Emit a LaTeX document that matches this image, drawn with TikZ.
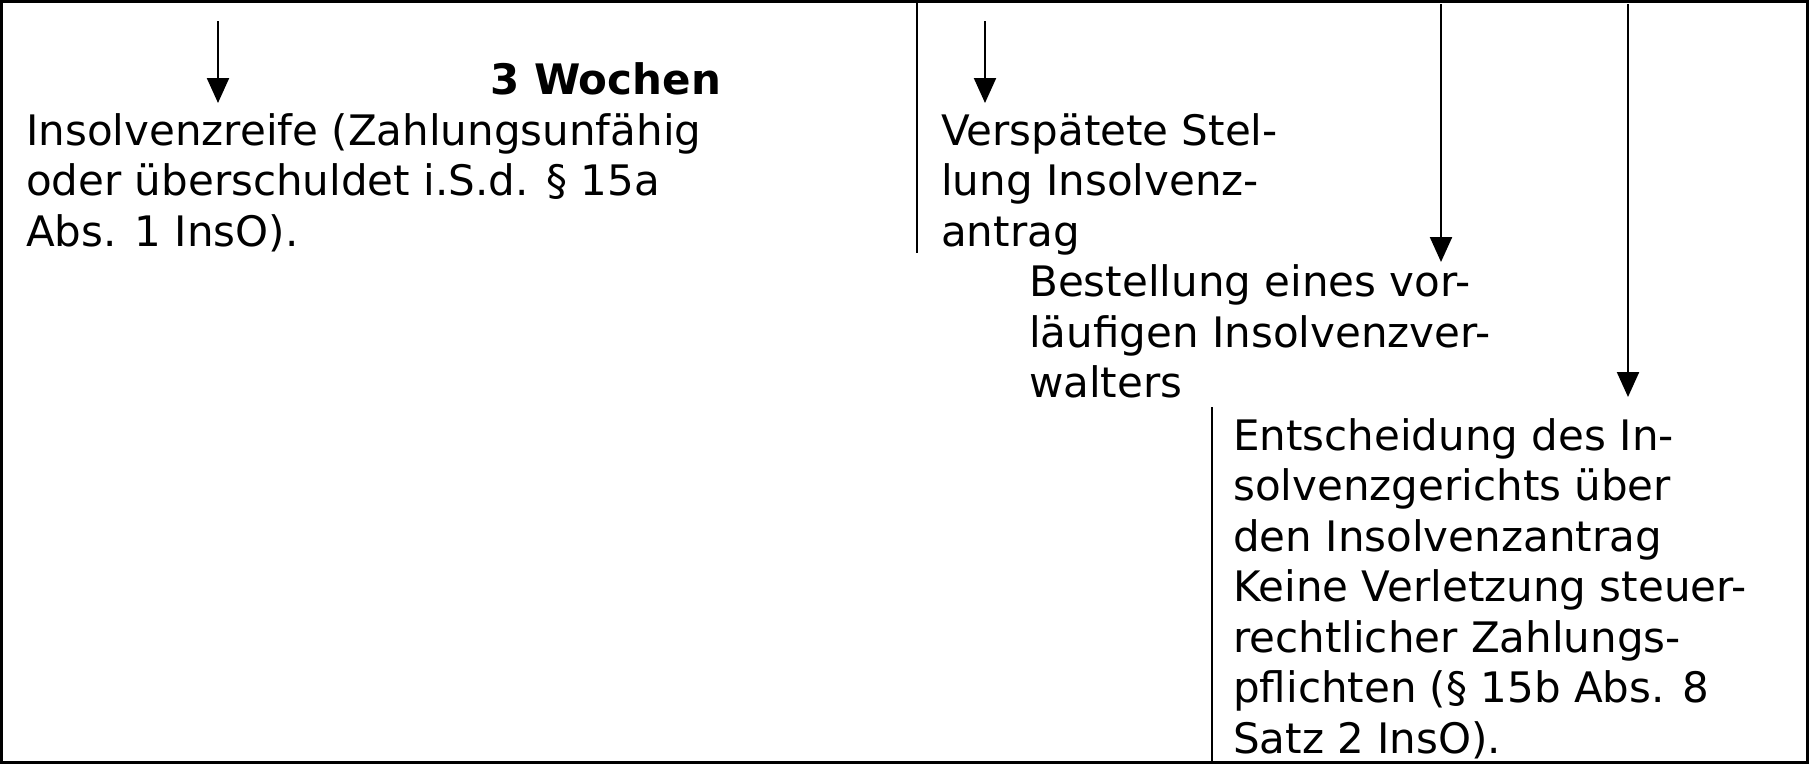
\documentclass[tikz,border=0pt]{standalone}
\usepackage{fontspec}
\setmainfont{DejaVu Sans}
\usetikzlibrary{arrows.meta}
\newcommand\mytopst{\rule{0pt}{40pt}}
\begin{document}
\begin{tikzpicture}[x=1pt,y=-1pt,
  txt/.style={anchor=north west,inner sep=0pt,align=left,font=\fontsize{42}{50.5}\selectfont},
  arr/.style={-{Triangle[length=25pt,width=22pt]},line width=2.2pt},
  sepline/.style={line width=1.8pt}]
\useasboundingbox (0,0) rectangle (1809,764);
\draw[line width=3pt] (1.5,1.5) rectangle (1807.5,762.5);
% separators
\draw[sepline] (917,0) -- (917,253);
\draw[sepline] (1212,407) -- (1212,764);
% texts
\node[txt] (t1) at (26,105) {\mytopst Insolvenzreife (Zahlungsunfähig\\oder überschuldet i.S.d. § 15a\\Abs. 1 InsO).};
\node[anchor=base west,inner sep=0pt,font=\fontsize{42}{50.5}\selectfont\bfseries] (w) at (490,94) {3 Wochen};
\node[txt] (t2) at (941,105) {\mytopst Verspätete Stel-\\lung Insolvenz-\\antrag};
\node[txt] (t3) at (1029,256.5) {\mytopst Bestellung eines vor-\\läufigen Insolvenzver-\\walters};
\node[txt] (t4) at (1233,410) {\mytopst Entscheidung des In-\\solvenzgerichts über\\den Insolvenzantrag\\Keine Verletzung steuer-\\rechtlicher Zahlungs-\\pflichten (§ 15b Abs. 8\\Satz 2 InsO).};
% arrows
\coordinate (a1s) at (218,21); \coordinate (a1e) at (218,103);
\coordinate (a2s) at (985,21); \coordinate (a2e) at (985,103);
\coordinate (a3s) at (1441,4); \coordinate (a3e) at (1441,262);
\coordinate (a4s) at (1628,4); \coordinate (a4e) at (1628,397);
\draw[arr] (a1s) -- (a1e);
\draw[arr] (a2s) -- (a2e);
\draw[arr] (a3s) -- (a3e);
\draw[arr] (a4s) -- (a4e);
\end{tikzpicture}
\end{document}
